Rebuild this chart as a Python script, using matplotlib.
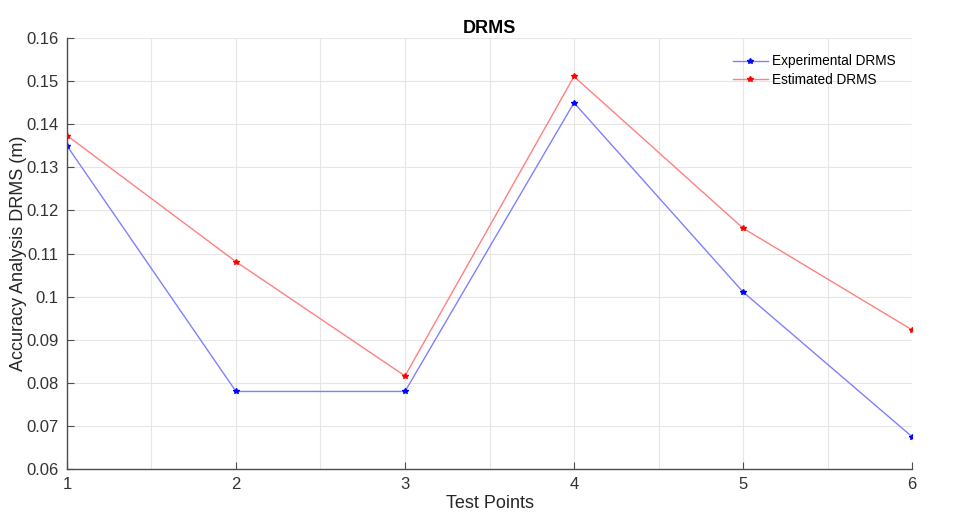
import matplotlib
matplotlib.use("Agg")
import matplotlib.pyplot as plt
import numpy as np

plt.rcParams['font.family'] = ['Liberation Sans', 'DejaVu Sans']

# data
test_points = [1, 2, 3, 4, 5, 6]
experimental = [0.135, 0.078, 0.078, 0.145, 0.1011, 0.0675]
estimated = [0.1374, 0.1081, 0.0816, 0.1511, 0.1159, 0.0923]

fig = plt.figure(figsize=(9.57, 5.21), dpi=100)
ax = fig.add_axes([0.070, 0.0998, 0.883, 0.827])

ax.plot(test_points, experimental, color=(0.5, 0.5, 1.0), lw=1,
        marker='*', ms=4, mfc='blue', mec='blue', label='Experimental DRMS')
ax.plot(test_points, estimated, color=(1.0, 0.5, 0.5), lw=1,
        marker='*', ms=4, mfc='red', mec='red', label='Estimated DRMS')

ax.set_xlim(1, 6)
ax.set_ylim(0.06, 0.16)
ax.set_xticks(test_points)
ax.set_xticklabels([str(t) for t in test_points])
ax.set_yticks(np.arange(0.06, 0.161, 0.01))
ax.set_yticklabels(['0.06', '0.07', '0.08', '0.09', '0.1', '0.11', '0.12',
                    '0.13', '0.14', '0.15', '0.16'])
ax.set_xticks(np.arange(1.5, 6, 1), minor=True)
ax.tick_params(which='minor', length=0)
ax.tick_params(which='major', direction='in', length=5, color='#4d4d4d',
               labelsize=12, labelcolor='#333333', pad=6)
ax.grid(True, which='both', color='#e6e6e6', lw=0.8)
ax.set_axisbelow(True)

for s in ['top', 'right']:
    ax.spines[s].set_visible(False)
for s in ['left', 'bottom']:
    ax.spines[s].set_color('#4d4d4d')
    ax.spines[s].set_linewidth(1)

ax.set_xlabel('Test Points', fontsize=13, color='#262626', labelpad=2)
ax.set_ylabel('Accuracy Analysis DRMS (m)', fontsize=13, color='#262626',
              va='center')
ax.yaxis.set_label_coords(-0.057, 0.5)
ax.set_title('DRMS', fontsize=13, fontweight='bold', pad=4)

ax.legend(loc='upper right', frameon=False, fontsize=9.8, handlelength=2.6,
          borderaxespad=0.8, labelspacing=0.3, handletextpad=0.3)

fig.savefig('out.png', dpi=100)
